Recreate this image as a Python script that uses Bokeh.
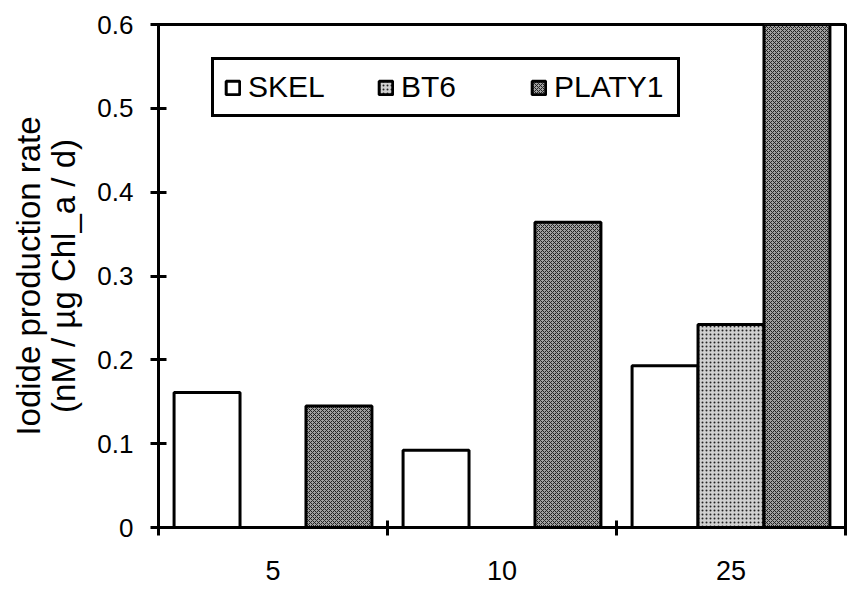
from bokeh.plotting import figure
from bokeh.models import (ColumnDataSource, Range1d, FixedTicker, CustomJSTickFormatter,
                          Legend, LegendItem)
from bokeh.transform import dodge
from bokeh.embed import file_html
from bokeh.resources import INLINE

# ---- data ----
categories = ["5", "10", "25"]
series_names = ["SKEL", "BT6", "PLATY1"]
skel = [0.161, 0.092, 0.193]
bt6 = [0.0, 0.0, 0.242]
platy1 = [0.145, 0.364, 0.60]
y_ticks = [0, 0.1, 0.2, 0.3, 0.4, 0.5, 0.6]

centers = [i + 0.5 for i in range(len(categories))]
src = ColumnDataSource(dict(x=centers, SKEL=skel, BT6=bt6, PLATY1=platy1))

FONT = "Liberation Sans"

p = figure(width=847, height=589, output_backend="svg", toolbar_location=None,
           x_range=Range1d(0, len(categories)), y_range=Range1d(0, 0.6),
           min_border_left=158, min_border_right=2, min_border_top=24,
           min_border_bottom=62)
p.background_fill_color = "white"
p.border_fill_color = "white"
p.grid.visible = False
p.outline_line_color = "black"
p.outline_line_width = 3

bw = 0.288
styles = {
    "SKEL": dict(fill_color="white"),
    "BT6": dict(fill_color="#d0d0d0", hatch_pattern="dot", hatch_color="#222222",
                hatch_scale=4, hatch_weight=1),
    "PLATY1": dict(fill_color="#a0a0a0", hatch_pattern="diagonal_cross", hatch_color="#222222",
                   hatch_scale=4, hatch_weight=1),
}
offsets = {"SKEL": -bw, "BT6": 0.0, "PLATY1": bw}
rends = {}
for name in series_names:
    rends[name] = p.vbar(x=dodge("x", offsets[name], range=p.x_range), top=name, bottom=0,
                         width=bw, source=src, line_color="black", line_width=3,
                         **styles[name])

# x axis
xa = p.xaxis[0]
xa.ticker = FixedTicker(ticks=centers, minor_ticks=list(range(len(categories) + 1)))
xa.formatter = CustomJSTickFormatter(args=dict(labels=categories),
                                     code="return labels[Math.floor(tick)];")
xa.major_tick_in = 0
xa.major_tick_out = 0
xa.minor_tick_in = 7
xa.minor_tick_out = 8
xa.minor_tick_line_width = 3
xa.minor_tick_line_color = "black"
xa.axis_line_width = 3
xa.axis_line_color = "black"
xa.major_label_standoff = 25
xa.major_label_text_font = FONT
xa.major_label_text_font_size = "27px"
xa.major_label_text_color = "black"

# y axis
ya = p.yaxis[0]
ya.ticker = FixedTicker(ticks=y_ticks, minor_ticks=[])
ya.formatter = CustomJSTickFormatter(code="return tick == 0 ? '0' : tick.toFixed(1);")
ya.major_tick_in = 8
ya.major_tick_out = 8
ya.major_tick_line_width = 3
ya.axis_line_width = 3
ya.axis_line_color = "black"
ya.major_label_standoff = 17
ya.major_label_text_font = FONT
ya.major_label_text_font_size = "26px"
ya.major_label_text_color = "black"
ya.axis_label = "Iodide production rate\n(nM / µg Chl_a / d)"
ya.axis_label_text_font = FONT
ya.axis_label_text_font_size = "33px"
ya.axis_label_text_font_style = "normal"
ya.axis_label_text_color = "black"
ya.axis_label_text_line_height = 0.95
ya.axis_label_standoff = 12

legend = Legend(items=[LegendItem(label=n, renderers=[rends[n]]) for n in series_names],
                orientation="horizontal", location=(53, 410),
                border_line_color="black", border_line_width=3, border_line_alpha=1.0,
                background_fill_color="white", background_fill_alpha=1,
                padding=10, spacing=16, margin=0, label_width=113,
                glyph_width=17, glyph_height=17, label_standoff=7,
                label_text_font=FONT, label_text_font_size="30px",
                label_text_color="black")
p.add_layout(legend, "center")

open("out.html", "w").write(file_html(p, INLINE))
